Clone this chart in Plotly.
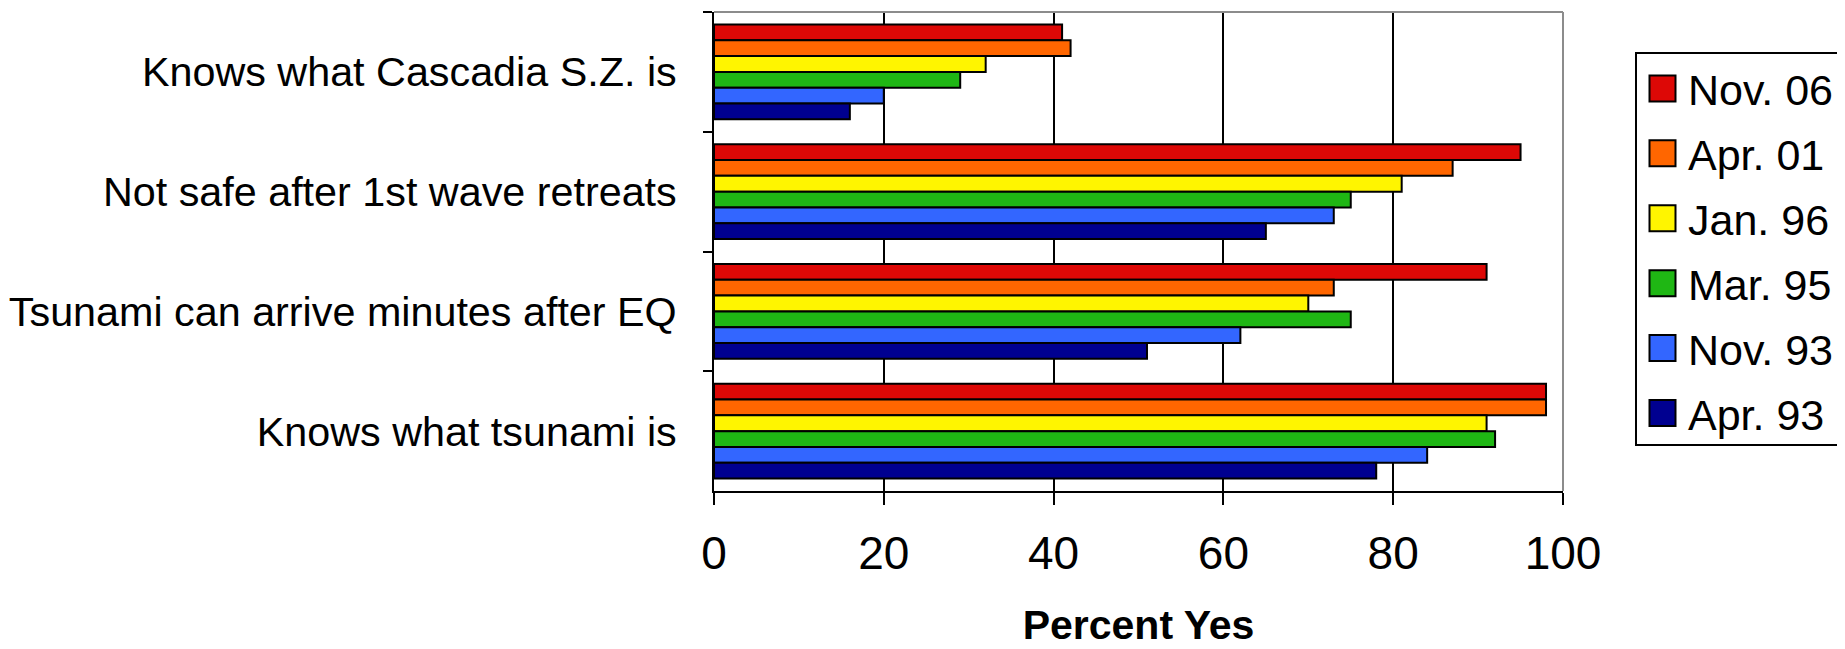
import plotly.graph_objects as go

categories = [
    "Knows what Cascadia S.Z. is",
    "Not safe after 1st wave retreats",
    "Tsunami can arrive minutes after EQ",
    "Knows what tsunami is",
]
series_names = ["Nov. 06", "Apr. 01", "Jan. 96", "Mar. 95", "Nov. 93", "Apr. 93"]
nov06 = [41, 95, 91, 98]
apr01 = [42, 87, 73, 98]
jan96 = [32, 81, 70, 91]
mar95 = [29, 75, 75, 92]
nov93 = [20, 73, 62, 84]
apr93 = [16, 65, 51, 78]
series_values = [nov06, apr01, jan96, mar95, nov93, apr93]
colors = ["#DD0806", "#FF6600", "#FFF500", "#1FB714", "#3366FF", "#000090"]
x_ticks = [0, 20, 40, 60, 80, 100]

FONT = "Liberation Sans, Arial, sans-serif"

fig = go.Figure()
for name, vals, col in zip(series_names, series_values, colors):
    fig.add_trace(go.Bar(
        y=categories, x=vals, name=name, orientation="h",
        marker=dict(color=col, line=dict(color="black", width=2)),
        legendgroup=name,
    ))

# page body has an 8px margin, so the plot is placed 8px up/left of target
OFF = 8
W, H = 1845, 649
L, R, T, B = 714 - OFF, 1563 - OFF, 12 - OFF, 491 - OFF

fig.update_layout(
    width=W, height=H,
    margin=dict(l=L, r=W - R, t=T, b=H - B, pad=0, autoexpand=False),
    barmode="group", bargap=0.21, bargroupgap=0,
    plot_bgcolor="white", paper_bgcolor="white",
    font=dict(family=FONT, color="black"),
    showlegend=True,
    legend=dict(
        xref="container", yref="container",
        x=(1635 - OFF) / W, xanchor="left",
        y=1 - (52 - OFF) / H, yanchor="top",
        bordercolor="black", borderwidth=2, bgcolor="white",
        font=dict(size=43, family=FONT),
        tracegroupgap=6, traceorder="grouped",
        itemwidth=41,
        entrywidth=163, entrywidthmode="pixels",
        maxheight=620,
    ),
    xaxis=dict(
        range=[0, 100], tickvals=x_ticks, ticktext=[str(v) for v in x_ticks],
        showgrid=True, gridcolor="black", gridwidth=2, zeroline=False,
        showline=True, linecolor="black", linewidth=2,
        ticks="outside", ticklen=12, tickwidth=2, tickcolor="black",
        tickfont=dict(size=46, family=FONT),
        ticklabelstandoff=9,
        title=dict(text="Percent Yes", font=dict(size=41, family=FONT, weight="bold"), standoff=32),
        fixedrange=True, automargin=False,
    ),
    yaxis=dict(
        autorange="reversed", type="category",
        showgrid=False, zeroline=False,
        showline=True, linecolor="black", linewidth=2,
        ticks="outside", tickson="boundaries", ticklen=9, tickwidth=2, tickcolor="black",
        tickfont=dict(size=41.3, family=FONT),
        ticklabelstandoff=27,
        fixedrange=True, automargin=False,
    ),
    shapes=[
        dict(type="line", xref="x domain", yref="y domain", x0=0, x1=1, y0=1, y1=1,
             line=dict(color="#8C8C8C", width=2), layer="above"),
        dict(type="line", xref="x domain", yref="y domain", x0=1, x1=1, y0=0, y1=1,
             line=dict(color="#8C8C8C", width=2), layer="above"),
    ],
)

# enlarge the legend colour swatches to match the reference's square keys,
# and trim the extra space plotly leaves below the last grouped legend entry
post = """
var gd = document.getElementById('{plot_id}');
function tidyLegend() {
  gd.querySelectorAll('g.legendpoints path.legendundefined').forEach(function(p) {
    p.setAttribute('d', 'M13,13H-13V-13H13Z');
  });
  var traces = gd.querySelectorAll('g.legend g.traces');
  var bg = gd.querySelector('g.legend rect.bg');
  if (traces.length && bg) {
    var last = traces[traces.length - 1];
    var m = last.getCTM();
    var lg = gd.querySelector('g.legend').getCTM();
    var ty = m.f - lg.f;
    bg.setAttribute('height', ty + 31);
  }
}
tidyLegend();
gd.on('plotly_afterplot', tidyLegend);
"""

fig.write_html("out.html", post_script=post)
